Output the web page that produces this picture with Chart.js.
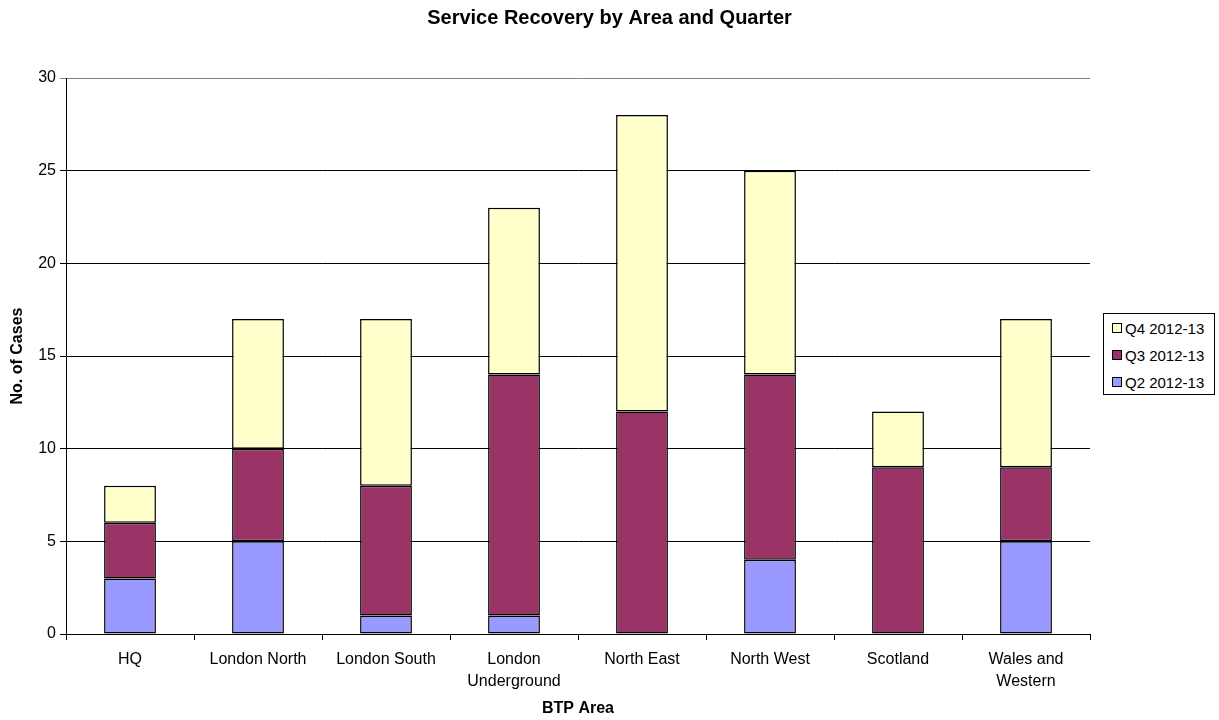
<!DOCTYPE html>
<html>
<head>
<meta charset="utf-8">
<script src="https://cdn.jsdelivr.net/npm/chart.js@4/dist/chart.umd.min.js"></script>
<style>
  html, body { margin: 0; padding: 0; background: #fff; }
  #wrap { position: relative; width: 1219px; height: 720px; }
  #legend {
    position: absolute; left: 1103px; top: 313px; width: 112px; height: 82px;
    border: 1px solid #000; box-sizing: border-box; background: #fff;
    font-family: "Liberation Sans", Arial, sans-serif; font-size: 15px; color: #000;
    padding: 6px 0 0 8px;
  }
  #legend div { height: 27px; line-height: 17px; white-space: nowrap; }
  #legend span.sw {
    display: inline-block; width: 8px; height: 8px; border: 1px solid #000;
    margin-right: 3px; vertical-align: 1px;
  }
</style>
</head>
<body>
<div id="wrap">
  <canvas id="chart" width="1219" height="720"></canvas>
  <div id="legend"></div>
</div>
<script>
// Service recovery cases per BTP area, stacked by quarter
const areas = ["HQ", "London North", "London South", ["London", "Underground"],
  "North East", "North West", "Scotland", ["Wales and", "Western"]];
const q2Cases = [3, 5, 1, 1, 0, 4, 0, 5];
const q3Cases = [3, 5, 7, 13, 12, 10, 9, 4];
const q4Cases = [2, 7, 9, 9, 16, 11, 3, 8];
const seriesNames = ["Q2 2012-13", "Q3 2012-13", "Q4 2012-13"];
const seriesColours = ["#9999FF", "#993366", "#FFFFCC"];

const font = "'Liberation Sans', Arial, sans-serif";

// zero-height segments are left out so they don't leave a stray outline
function makeDataset(i, data) {
  return {
    label: seriesNames[i], data: data.map((v) => (v === 0 ? null : v)),
    backgroundColor: seriesColours[i],
    borderColor: "#000", borderWidth: 1.5, borderSkipped: false,
    categoryPercentage: 0.81, barPercentage: 0.5,
  };
}

new Chart(document.getElementById("chart"), {
  type: "bar",
  data: {
    labels: areas,
    datasets: [makeDataset(0, q2Cases), makeDataset(1, q3Cases), makeDataset(2, q4Cases)],
  },
  options: {
    responsive: false,
    animation: false,
    plugins: {
      legend: { display: false },
      tooltip: { enabled: false },
      title: {
        display: true, text: "Service Recovery by Area and Quarter", color: "#000",
        font: { family: font, size: 20, weight: "bold" },
        padding: { top: 6, bottom: 48 },
      },
    },
    scales: {
      x: {
        stacked: true,
        grid: { display: true, drawOnChartArea: false, color: "#000", tickLength: 6, offset: true },
        border: { color: "#000", width: 1 },
        ticks: { color: "#000", font: { family: font, size: 16, lineHeight: 1.4 }, padding: 8, maxRotation: 0, autoSkip: false },
        title: {
          display: true, text: "BTP Area", color: "#000",
          font: { family: font, size: 16, weight: "bold" }, padding: { top: 2, bottom: 2 },
        },
        afterFit: (s) => { s.height = 86; },
      },
      y: {
        stacked: true, min: 0, max: 30,
        ticks: { stepSize: 5, color: "#000", font: { family: font, size: 16 }, padding: 4 },
        grid: { color: (c) => c.tick && c.tick.value === 30 ? "#808080" : "#000", tickLength: 6, lineWidth: 1 },
        border: { color: "#000", width: 1 },
        title: {
          display: true, text: "No. of Cases", color: "#000",
          font: { family: font, size: 16, weight: "bold" }, padding: { top: 8, bottom: 4 },
        },
        afterFit: (s) => { s.width = 66; },
      },
      spacer: {
        position: "right", display: true,
        grid: { display: false }, border: { display: false }, ticks: { display: false },
        afterFit: (s) => { s.width = 129; },
      },
    },
  },
});

// legend is listed top-down Q4, Q3, Q2 like the original
const legend = document.getElementById("legend");
for (let i = seriesNames.length - 1; i >= 0; i--) {
  const row = document.createElement("div");
  row.innerHTML = '<span class="sw" style="background:' + seriesColours[i] + '"></span>' + seriesNames[i];
  legend.appendChild(row);
}
</script>
</body>
</html>
